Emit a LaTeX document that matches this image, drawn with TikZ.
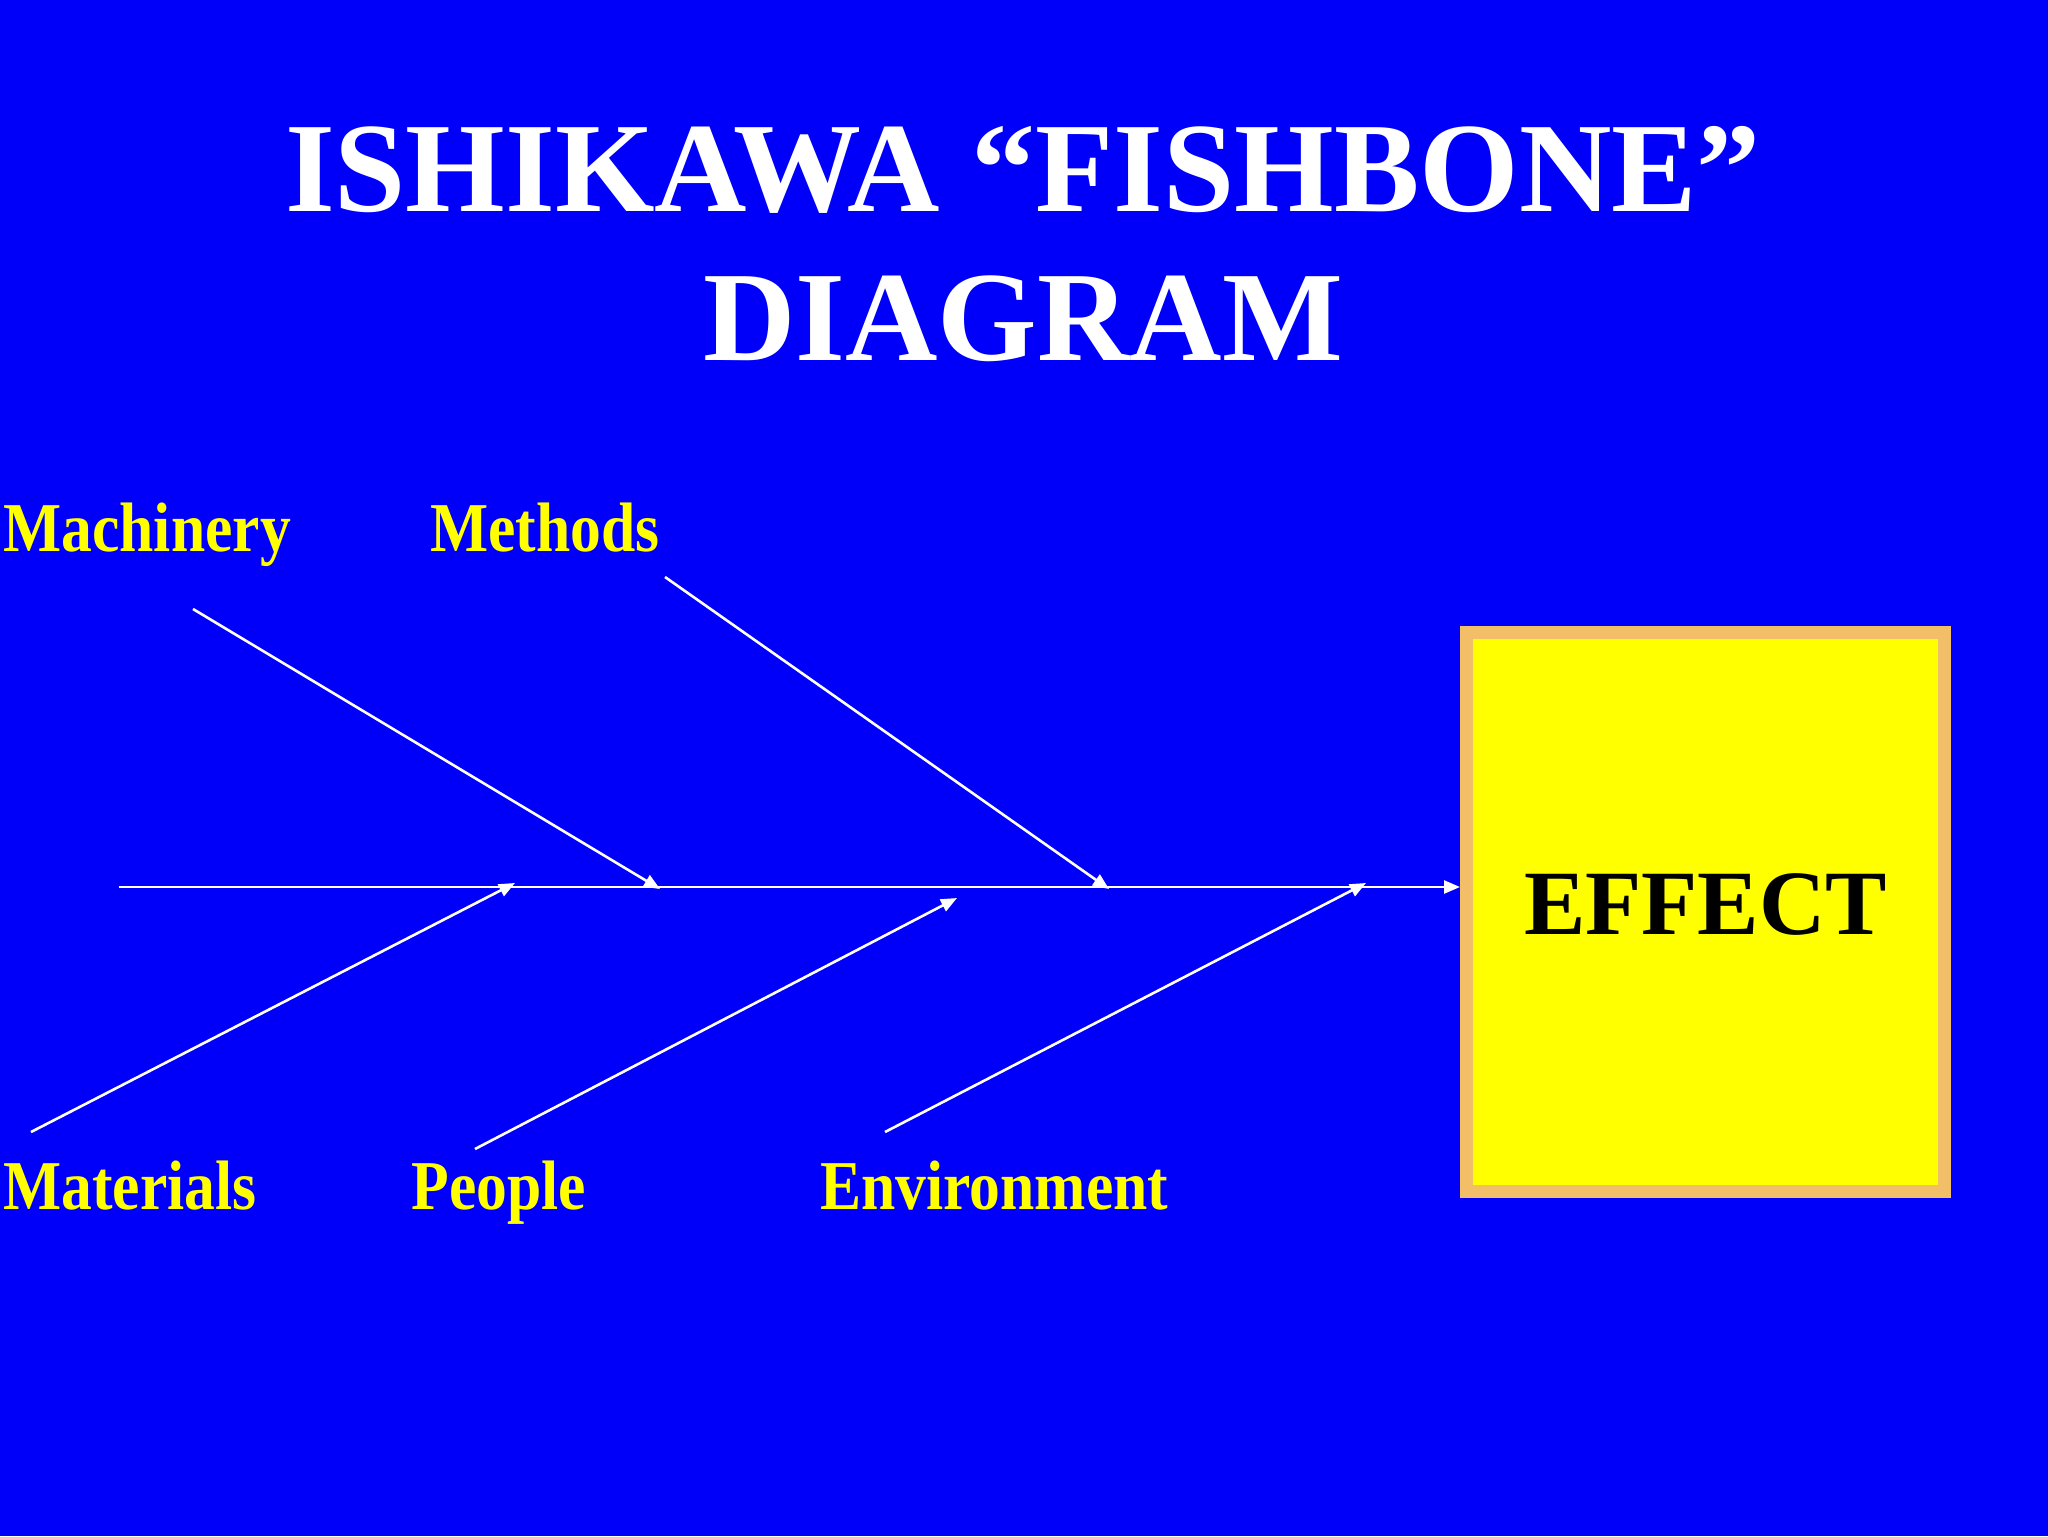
\documentclass[tikz,border=0pt]{standalone}
\usepackage{fontspec}
\setmainfont{Liberation Serif}
\newfontfamily\condserif[FakeStretch=0.88]{Liberation Serif}
\usetikzlibrary{arrows.meta}
\definecolor{bgblue}{RGB}{0,0,250}
\definecolor{fishyellow}{RGB}{255,255,0}
\definecolor{boxborder}{RGB}{242,190,104}
\tikzset{
  bone/.style={draw=white, line width=1.3pt, -{Triangle[length=8pt,width=6.5pt]}},
  cause/.style={text=fishyellow, font=\condserif\bfseries\fontsize{35}{40}\selectfont, anchor=base west, inner sep=0pt},
  titletext/.style={text=white, font=\bfseries\fontsize{64}{72}\selectfont, anchor=base, inner sep=0pt},
  effectbox/.style={draw=boxborder, line width=6.5pt, fill=fishyellow, minimum width=239pt, minimum height=279.5pt, inner sep=0pt, font=\bfseries\fontsize{46}{50}\selectfont, text=black}
}
\begin{document}
\begin{tikzpicture}[x=0.5pt,y=-0.5pt]
\fill[bgblue] (0,0) rectangle (2048,1536);
\useasboundingbox (0,0) rectangle (2048,1536);
% title
\node[titletext] (t1) at (1023,211) {ISHIKAWA “FISHBONE”};
\node[titletext] (t2) at (1023,360) {DIAGRAM};
% effect box
\node[effectbox] (effect) at (1705.5,912) {\raisebox{4pt}[\height][\depth]{EFFECT}};
% labels
\node[cause] (machinery) at (3,551) {Machinery};
\node[cause] (methods) at (430,551) {Methods};
\node[cause] (materials) at (3,1209) {Materials};
\node[cause] (people) at (411,1209) {People};
\node[cause] (environment) at (820,1209) {Environment};
% bone coordinates
\coordinate (spineS) at (119,887);
\coordinate (machS) at (193,609);
\coordinate (machE) at (660,889);
\coordinate (methS) at (665,577);
\coordinate (methE) at (1109,889);
\coordinate (matS) at (31,1132);
\coordinate (matE) at (515,883);
\coordinate (peoS) at (475,1149);
\coordinate (peoE) at (957,898);
\coordinate (envS) at (885,1132);
\coordinate (envE) at (1366,883);
% spine
\draw[bone] (spineS) -- (effect.west |- spineS);
% causes
\draw[bone] (machS) -- (machE);
\draw[bone] (methS) -- (methE);
\draw[bone] (matS) -- (matE);
\draw[bone] (peoS) -- (peoE);
\draw[bone] (envS) -- (envE);
\end{tikzpicture}
\end{document}
